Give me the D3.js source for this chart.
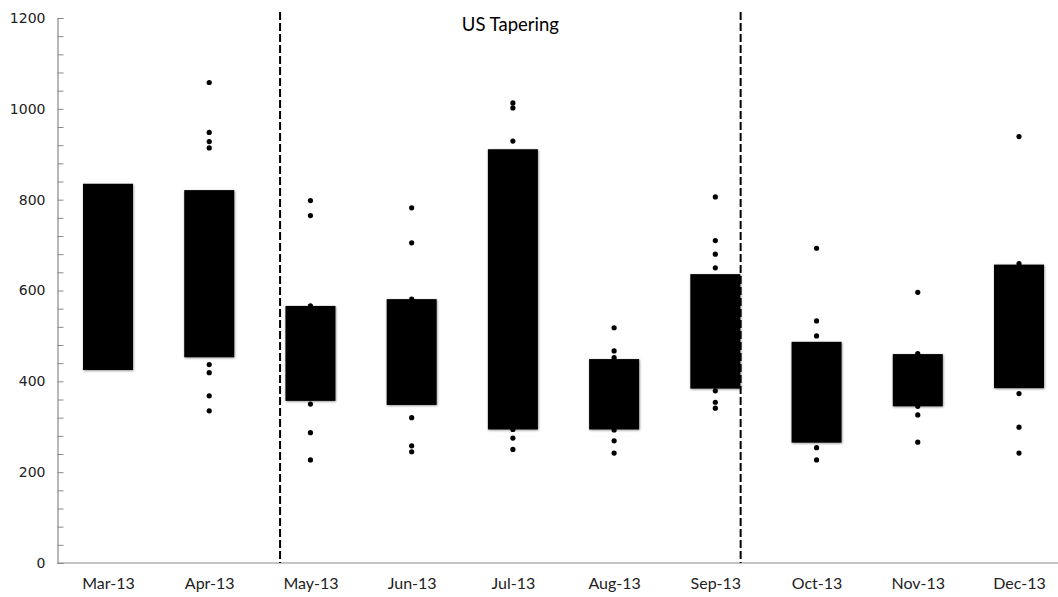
<!DOCTYPE html>
<html>
<head>
<meta charset="utf-8">
<script src="https://cdn.jsdelivr.net/npm/d3@7"></script>
<style>
  html, body { margin: 0; padding: 0; background: #fff; }
  svg { display: block; }
</style>
</head>
<body>
<svg id="chart" width="1058" height="597"></svg>
<script>
const categories = ["Mar-13","Apr-13","May-13","Jun-13","Jul-13","Aug-13","Sep-13","Oct-13","Nov-13","Dec-13"];
const boxLow  = [425, 453, 357, 348, 294, 294, 384, 265, 345, 385];
const boxHigh = [835, 821, 566, 581, 911, 449, 636, 487, 460, 657];
const pointsMar = [];
const pointsApr = [1058, 948, 928, 914, 437, 419, 368, 335];
const pointsMay = [798, 765, 566, 350, 287, 227];
const pointsJun = [782, 705, 581, 320, 258, 245];
const pointsJul = [1013, 1002, 929, 294, 275, 250];
const pointsAug = [518, 467, 452, 293, 269, 242];
const pointsSep = [806, 710, 680, 650, 379, 354, 341];
const pointsOct = [693, 533, 500, 254, 227];
const pointsNov = [596, 461, 345, 326, 266];
const pointsDec = [939, 659, 373, 299, 242];
const yTicks = [0, 200, 400, 600, 800, 1000, 1200];
const annotationLabel = "US Tapering";
// tapering period bounds in category-index units
const taperStart = 1.7, taperEnd = 6.25;

const points = [pointsMar, pointsApr, pointsMay, pointsJun, pointsJul, pointsAug, pointsSep, pointsOct, pointsNov, pointsDec];

const svg = d3.select("#chart");
const axisX = 57.5, bottomY = 563, topY = 18;

const y = d3.scaleLinear().domain([0, 1200]).range([bottomY, topY]);
const x = d3.scalePoint().domain(categories).range([108, 1019]);
const xi = d3.scaleLinear().domain([0, categories.length - 1]).range([108, 1019]);
const boxW = 50;

const defs = svg.append("defs");
const f = defs.append("filter").attr("id", "shadow").attr("x", "-20%").attr("y", "-20%").attr("width", "140%").attr("height", "140%");
f.append("feDropShadow").attr("dx", 0.6).attr("dy", 0.8).attr("stdDeviation", 0.9).attr("flood-color", "#000").attr("flood-opacity", 0.45);

// Y axis
const yAxis = d3.axisLeft(y)
  .tickValues(d3.range(0, 1201, 40))
  .tickSize(-6)
  .tickPadding(12)
  .tickFormat(d => yTicks.includes(d) ? d : "");
const gy = svg.append("g").attr("transform", `translate(${axisX},0)`).call(yAxis);
gy.select(".domain").attr("stroke", "#8a8a8a").attr("stroke-width", 1.2);
gy.selectAll(".tick line").attr("stroke", "#8a8a8a");
gy.selectAll(".tick text").attr("font-family", "DejaVu Sans, Verdana, sans-serif").attr("font-size", 14).attr("fill", "#222");

// X axis baseline
svg.append("line").attr("x1", axisX).attr("x2", 1058).attr("y1", bottomY).attr("y2", bottomY)
  .attr("stroke", "#8a8a8a").attr("stroke-width", 1.2);

const xAxis = d3.axisBottom(x).tickSize(0).tickPadding(15);
const gx = svg.append("g").attr("transform", `translate(0,${bottomY})`).call(xAxis);
gx.select(".domain").remove();
gx.selectAll(".tick text").attr("font-family", "Lato, Carlito, sans-serif").attr("font-size", 16).attr("fill", "#222");

// Dashed lines
[taperStart, taperEnd].forEach(v => {
  svg.append("line").attr("x1", xi(v)).attr("x2", xi(v)).attr("y1", 12).attr("y2", bottomY)
    .attr("stroke", "#000").attr("stroke-width", 2).attr("stroke-dasharray", "8,3");
});

svg.append("text").attr("x", xi((taperStart + taperEnd) / 2)).attr("y", 31)
  .attr("text-anchor", "middle").attr("font-family", "Lato, Carlito, sans-serif").attr("font-size", 18.5).attr("fill", "#000")
  .text(annotationLabel);

// Boxes
svg.append("g").selectAll("rect").data(categories).join("rect")
  .attr("x", d => x(d) - boxW / 2)
  .attr("width", boxW)
  .attr("y", (d, i) => y(boxHigh[i]))
  .attr("height", (d, i) => y(boxLow[i]) - y(boxHigh[i]))
  .attr("fill", "#000")
  .attr("filter", "url(#shadow)");

// Points
const flat = [];
categories.forEach((c, i) => points[i].forEach(v => flat.push({ c, v })));
svg.append("g").selectAll("circle").data(flat).join("circle")
  .attr("cx", d => x(d.c))
  .attr("cy", d => y(d.v))
  .attr("r", 2.6)
  .attr("fill", "#000");
</script>
</body>
</html>
